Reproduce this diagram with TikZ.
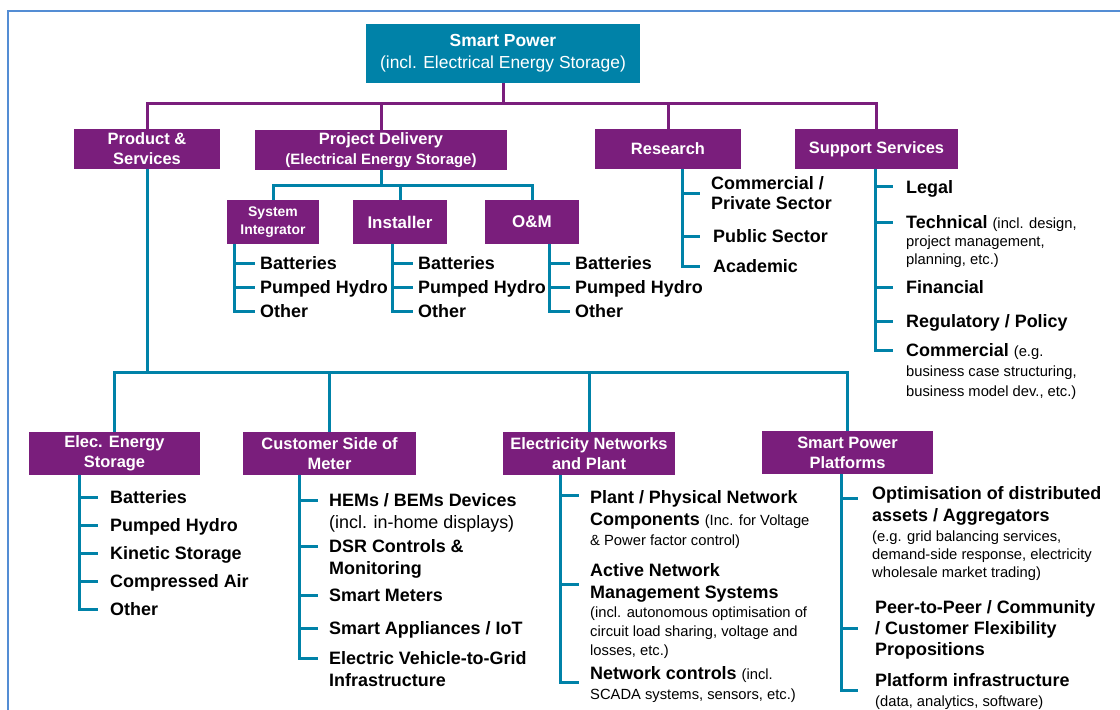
\documentclass[tikz,border=0pt]{standalone}
\usepackage{fontspec}
\setmainfont{Liberation Sans}
\usetikzlibrary{calc}
\definecolor{spteal}{RGB}{0,130,168}
\definecolor{sppurple}{RGB}{122,30,124}
\definecolor{frameblue}{RGB}{84,141,212}
\newcommand\smallnote[1]{{\fontsize{14.8}{18}\selectfont\mdseries #1}}

\begin{document}
\begin{tikzpicture}[x=1bp,y=-1bp,
   rootbox/.style={fill=spteal,text=white,align=center,inner sep=0pt,
     minimum width=274bp,minimum height=59bp,font=\fontsize{17.5}{22}\selectfont},
   hdbox/.style={fill=sppurple,text=white,align=center,inner sep=0pt,
     minimum height=40bp,font=\fontsize{16.5}{20}\selectfont\bfseries},
   subbox/.style={hdbox,minimum width=94bp,minimum height=44bp,
     font=\fontsize{17}{20}\selectfont\bfseries},
   item/.style={anchor=north west,inner sep=0pt,yshift=6.5bp,align=left,
     font=\fontsize{18}{22}\selectfont\bfseries},
   trunk/.style={draw=sppurple,line width=3bp},
   leaf/.style={draw=spteal,line width=3bp}]
  \useasboundingbox (0,0) rectangle (1120,710);
  \draw[frameblue,line width=1.5bp] (8,710) |- (1120,11);

  % top level
  \node (sp) [rootbox] at (503,53.5) {\textbf{Smart Power}\\(incl. Electrical Energy Storage)};
  \node (ps) [hdbox,minimum width=146bp] at (147,149) {Product \&\\Services};
  \node (pd) [hdbox,minimum width=252bp] at (381,150) {Project Delivery\\{\fontsize{15}{18}\selectfont(Electrical Energy Storage)}};
  \node (rs) [hdbox,minimum width=146bp] at (668,149) {Research};
  \node (ss) [hdbox,minimum width=163bp] at (876.5,149) {Support Services};

  \coordinate (bus1) at (0,104);
  \draw[trunk] (sp.south) -- (sp.south |- bus1);
  \draw[trunk] (ps.north) |- (ss.north |- bus1) -- (ss.north);
  \draw[trunk] (pd.north) -- (pd.north |- bus1);
  \draw[trunk] (rs.north) -- (rs.north |- bus1);

  % project delivery
  \node (integ) [subbox,minimum width=92bp,font=\fontsize{14}{17.5}\selectfont\bfseries] at (273,222) {System\\Integrator};
  \node (inst) [subbox] at (400,222) {Installer};
  \node (oam) [subbox] at (532,222) {O\&M};

  \coordinate (bus2) at (0,186);
  \draw[leaf] (pd.south) -- (pd.south |- bus2);
  \draw[leaf] (integ.north) |- (oam.north |- bus2) -- (oam.north);
  \draw[leaf] (inst.north) -- (inst.north |- bus2);

  \foreach \p/\sx in {integ/234,inst/392,oam/549}{
    \node (\p-1) [item] at (\sx+26,263) {Batteries};
    \node (\p-2) [item] at (\sx+26,287) {Pumped Hydro};
    \node (\p-3) [item] at (\sx+26,311) {Other};
    \draw[leaf] (\p.south -| \sx,0) |- ($(\p-3.north west)+(-5,6.5)$);
    \draw[leaf] (\p-1.north west -| \sx,0) ++(0,6.5) -- ++(21,0);
    \draw[leaf] (\p-2.north west -| \sx,0) ++(0,6.5) -- ++(21,0);
  }

  % research
  \coordinate (rsS) at (682,0);
  \node (rs-1) [item] at (711,183) {Commercial /\\[-2bp]Private Sector};
  \node (rs-2) [item] at (713,236) {Public Sector};
  \node (rs-3) [item] at (713,266) {Academic};
  \draw[leaf] (rs.south -| rsS) |- ($(rs-3.north west)+(-13,6.5)$);
  \draw[leaf] (rs-1.west -| rsS) -- ++(18,0);
  \draw[leaf] (rs-2.north west -| rsS) ++(0,6.5) -- ++(18,0);

  % support services
  \coordinate (ssS) at (875,0);
  \node (ss-1) [item] at (906,187) {Legal};
  \node (ss-2) [item] at (906,222) {Technical \smallnote{(incl. design,}\\[-4bp]\smallnote{project management,}\\[-4bp]\smallnote{planning, etc.)}};
  \node (ss-3) [item] at (906,287) {Financial};
  \node (ss-4) [item] at (906,321) {Regulatory / Policy};
  \node (ss-5) [item] at (906,350) {Commercial \smallnote{(e.g.}\\[-2bp]\smallnote{business case structuring,}\\[-2bp]\smallnote{business model dev., etc.)}};
  \draw[leaf] (ss.south -| ssS) |- ($(ss-5.north west)+(-13,6.5)$);
  \foreach \i in {1,...,4}
    \draw[leaf] (ss-\i.north west -| ssS) ++(0,6.5) -- ++(18,0);

  % products and services
  \node (ees) [hdbox,minimum width=171bp,minimum height=43bp] at (114.5,453.5) {Elec. Energy\\Storage};
  \node (csm) [hdbox,minimum width=173bp,minimum height=43bp] at (329.5,453.5) {Customer Side of\\Meter};
  \node (enp) [hdbox,minimum width=172bp,minimum height=43bp] at (589,453.5) {Electricity Networks\\and Plant};
  \node (spp) [hdbox,minimum width=171bp,minimum height=43bp] at (847.5,452.5) {Smart Power\\Platforms};

  \coordinate (bus3) at (0,372);
  \draw[leaf] (ps.south) -- (ps.south |- bus3);
  \draw[leaf] (ees.north) |- (spp.north |- bus3) -- (spp.north);
  \draw[leaf] (csm.north) -- (csm.north |- bus3);
  \draw[leaf] (enp.north) -- (enp.north |- bus3);

  \coordinate (eesS) at (79,0);
  \foreach \lbl [count=\i] in {Batteries,Pumped Hydro,Kinetic Storage,Compressed Air,Other}
    \node (ees-\i) [item] at (110,469+28*\i) {\lbl};
  \draw[leaf] (ees.south -| eesS) |- ($(ees-5.north west)+(-12,6.5)$);
  \foreach \i in {1,...,4}
    \draw[leaf] (ees-\i.north west -| eesS) ++(0,6.5) -- ++(19,0);

  \coordinate (csmS) at (299,0);
  \node (csm-1) [item] at (329,500) {HEMs / BEMs Devices\\\mdseries(incl. in-home displays)};
  \node (csm-2) [item] at (329,546) {DSR Controls \&\\Monitoring};
  \node (csm-3) [item] at (329,595) {Smart Meters};
  \node (csm-4) [item] at (329,628) {Smart Appliances / IoT};
  \node (csm-5) [item] at (329,658) {Electric Vehicle-to-Grid\\Infrastructure};
  \draw[leaf] (csm.south -| csmS) |- ($(csm-5.north west)+(-11,6.5)$);
  \foreach \i in {1,...,4}
    \draw[leaf] (csm-\i.north west -| csmS) ++(0,6.5) -- ++(19,0);

  \coordinate (enpS) at (560,0);
  \node (enp-1) [item] at (590,497) {Plant / Physical Network\\Components \smallnote{(Inc. for Voltage}\\[-2bp]\smallnote{\& Power factor control)}};
  \node (enp-2) [item] at (590,570) {Active Network\\Management Systems\\[-3bp]\smallnote{(incl. autonomous optimisation of}\\[-3bp]\smallnote{circuit load sharing, voltage and}\\[-3bp]\smallnote{losses, etc.)}};
  \node (enp-3) [item] at (590,673) {Network controls \smallnote{(incl.}\\[-2bp]\smallnote{SCADA systems, sensors, etc.)}};
  \draw[leaf] (enp.south -| enpS) |- ($(enp-3.north west)+(-11,15.5)$);
  \draw[leaf] (enp-1.north west -| enpS) ++(0,5) -- ++(19,0);
  \draw[leaf] (enp-2.north west -| enpS) ++(0,20.5) -- ++(19,0);

  \coordinate (sppS) at (841,0);
  \node (spp-1) [item] at (872,493) {Optimisation of distributed\\assets / Aggregators\\[-2bp]\smallnote{(e.g. grid balancing services,}\\[-4bp]\smallnote{demand-side response, electricity}\\[-4bp]\smallnote{wholesale market trading)}};
  \node (spp-2) [item] at (875,607) {Peer-to-Peer / Community\\[-1bp]/ Customer Flexibility\\[-1bp]Propositions};
  \node (spp-3) [item] at (875,680) {Platform infrastructure\\[-2bp]\smallnote{(data, analytics, software)}};
  \draw[leaf] (spp.south -| sppS) |- ($(spp-3.north west)+(-17,16.5)$);
  \draw[leaf] (spp-1.north west -| sppS) ++(0,11.5) -- ++(17,0);
  \draw[leaf] (spp-2.north west -| sppS) ++(0,27.5) -- ++(17,0);
\end{tikzpicture}
\end{document}
